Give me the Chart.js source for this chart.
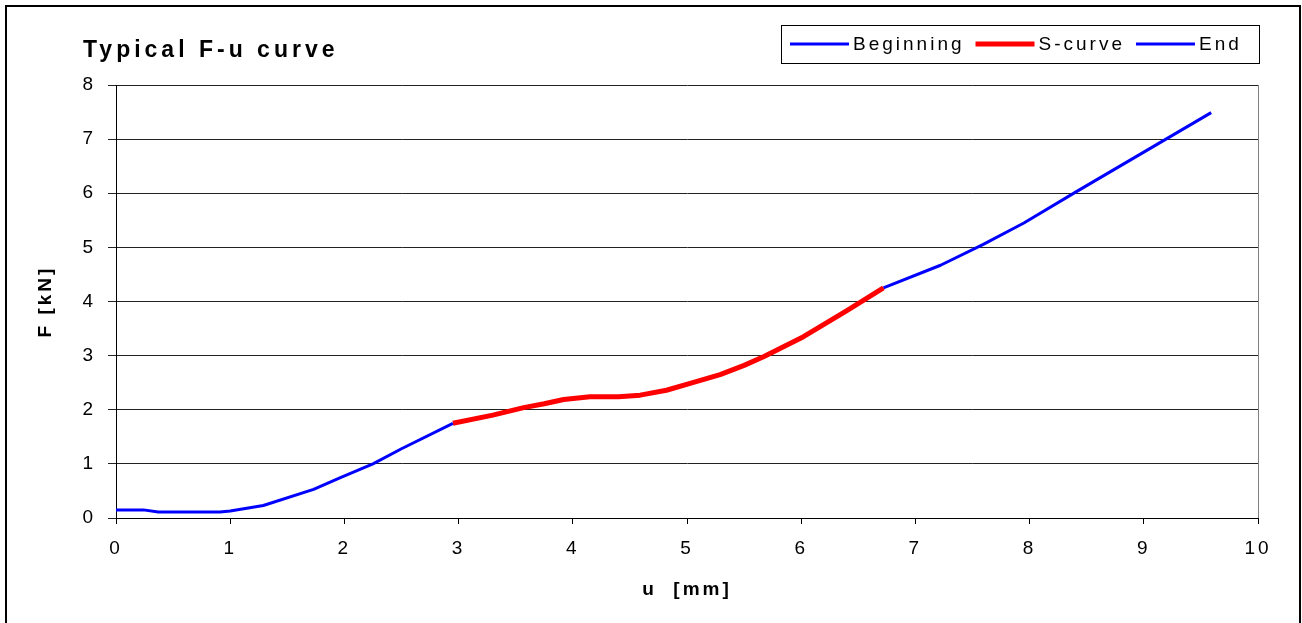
<!DOCTYPE html>
<html>
<head>
<meta charset="utf-8">
<title>Typical F-u curve</title>
<script src="https://cdn.jsdelivr.net/npm/chart.js@4.4.1/dist/chart.umd.min.js"></script>
<style>
  html, body { margin: 0; padding: 0; background: #fff; }
  #wrap { width: 1302px; height: 623px; }
</style>
</head>
<body>
<div id="wrap"><canvas id="fuChart"></canvas></div>
<script>
// displacement u [mm] and force F [kN] for each part of the curve
var beginU = [0, 0.24, 0.37, 0.91, 1.0, 1.29, 1.73, 1.96, 2.25, 2.5, 2.95];
var beginF = [0.15, 0.15, 0.11, 0.11, 0.13, 0.23, 0.53, 0.74, 1.0, 1.28, 1.75];

var sCurveU = [2.95, 3.3, 3.57, 3.75, 3.92, 4.15, 4.4, 4.59, 4.82, 5.05, 5.29, 5.5, 5.67, 6.02, 6.4, 6.72];
var sCurveF = [1.75, 1.9, 2.04, 2.11, 2.19, 2.24, 2.24, 2.27, 2.36, 2.5, 2.65, 2.82, 2.98, 3.35, 3.83, 4.25];

var endU = [6.72, 7.22, 7.59, 7.95, 8.41, 9.0, 9.59];
var endF = [4.25, 4.67, 5.05, 5.45, 6.03, 6.76, 7.49];

var seriesNames = ["Beginning", "S-curve", "End"];
var chartTitle = "Typical F-u curve";
var xTitle = "u  [mm]";
var yTitle = "F [kN]";

var FONT = '"Liberation Sans", Arial, sans-serif';

function pts(us, fs) {
    return us.map(function (u, i) { return { x: u, y: fs[i] }; });
}

// wide letter spacing for all the chart text
var spacing = {
    id: "spacing",
    beforeLayout: function (chart) { chart.ctx.letterSpacing = "3px"; },
    beforeDraw: function (chart) {
        var ctx = chart.ctx;
        ctx.save();
        ctx.fillStyle = "#fff";
        ctx.fillRect(0, 0, chart.width, chart.height);
        ctx.restore();
        ctx.letterSpacing = "3px";
    },
};

// outer frame, plot border, title and boxed legend
var frame = {
    id: "frame",
    afterDraw: function (chart) {
        var ctx = chart.ctx;
        var a = chart.chartArea;
        ctx.save();

        ctx.strokeStyle = "#000";
        ctx.lineWidth = 2;
        ctx.strokeRect(6, 6, 1294, 640);

        ctx.strokeStyle = "#808080";
        ctx.lineWidth = 1;
        ctx.beginPath();
        ctx.moveTo(Math.round(a.right) + 0.5, a.top);
        ctx.lineTo(Math.round(a.right) + 0.5, a.bottom);
        ctx.stroke();

        ctx.fillStyle = "#000";
        ctx.textBaseline = "alphabetic";
        ctx.textAlign = "left";
        ctx.letterSpacing = "4px";
        ctx.font = "bold 23px " + FONT;
        ctx.fillText(chartTitle, 83, 57);

        // legend
        ctx.strokeStyle = "#000";
        ctx.lineWidth = 1;
        ctx.strokeRect(781.5, 25.5, 478, 38);
        ctx.letterSpacing = "3px";
        ctx.font = "19px " + FONT;
        ctx.textBaseline = "middle";
        var x = 790;
        var y = 44;
        chart.data.datasets.forEach(function (ds) {
            ctx.strokeStyle = ds.borderColor;
            ctx.lineWidth = ds.borderWidth;
            ctx.beginPath();
            ctx.moveTo(x, y);
            ctx.lineTo(x + 59, y);
            ctx.stroke();
            ctx.fillStyle = "#000";
            ctx.fillText(ds.label, x + 63, y + 1);
            x += 63 + ctx.measureText(ds.label).width + 11;
        });
        ctx.restore();
    },
};

var ctx = document.getElementById("fuChart").getContext("2d");

var myChart = new Chart(ctx, {
    type: "line",
    data: {
        datasets: [
            {
                label: seriesNames[0],
                data: pts(beginU, beginF),
                borderColor: "#0000ff",
                backgroundColor: "#0000ff",
                borderWidth: 3,
            },
            {
                label: seriesNames[1],
                data: pts(sCurveU, sCurveF),
                borderColor: "#ff0000",
                backgroundColor: "#ff0000",
                borderWidth: 5,
            },
            {
                label: seriesNames[2],
                data: pts(endU, endF),
                borderColor: "#0000ff",
                backgroundColor: "#0000ff",
                borderWidth: 3,
            },
        ],
    },
    options: {
        responsive: true,
        maintainAspectRatio: false,
        animation: false,
        elements: {
            point: { radius: 0, hoverRadius: 0 },
            line: { tension: 0, borderJoinStyle: "round" },
        },
        layout: {
            padding: { top: 85, right: 44, left: 0, bottom: 0 },
        },
        plugins: {
            legend: false,
            tooltip: false,
        },
        scales: {
            x: {
                type: "linear",
                min: 0,
                max: 10,
                afterFit: function (s) { s.height = 105; },
                border: { color: "#000", width: 1 },
                grid: {
                    drawOnChartArea: false,
                    tickLength: 6,
                    color: "#000",
                },
                ticks: {
                    stepSize: 1,
                    padding: 13,
                    color: "#000",
                    font: { size: 19, family: FONT },
                },
                title: {
                    display: true,
                    text: xTitle,
                    color: "#000",
                    font: { size: 19, weight: "bold", family: FONT },
                    padding: { top: 0, bottom: 22 },
                },
            },
            y: {
                min: 0,
                max: 8,
                afterFit: function (s) { s.width = 116; },
                border: { color: "#000", width: 1 },
                grid: {
                    color: "#222",
                    tickLength: 8,
                },
                ticks: {
                    stepSize: 1,
                    padding: 12,
                    color: "#000",
                    font: { size: 19, family: FONT },
                },
                title: {
                    display: true,
                    text: yTitle,
                    color: "#000",
                    font: { size: 19, weight: "bold", family: FONT },
                    padding: { top: 34, bottom: 0 },
                },
            },
        },
    },
    plugins: [spacing, frame],
});
</script>
</body>
</html>
